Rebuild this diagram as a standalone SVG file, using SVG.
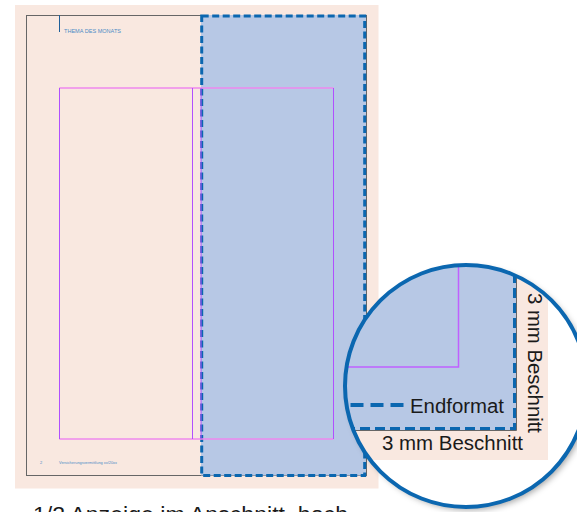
<svg xmlns="http://www.w3.org/2000/svg" width="577" height="512" viewBox="0 0 577 512">
<style>
.peach{fill:#f9e8e0}
.bluef{fill:#b7c8e5}
.dash{fill:none;stroke:#0b67b0;stroke-width:3}
.gray{fill:none;stroke:#666;stroke-width:1}
.mh{stroke:#ee88ee;stroke-width:1.5}
.mv{stroke:#b050ff;stroke-width:1}
.lbl{font-family:"Liberation Sans",Arial,sans-serif;fill:#1a1a1a}
.hdr{font-family:"Liberation Sans",Arial,sans-serif;fill:#4c8bc6}
</style>
<defs>
<clipPath id="lens"><circle cx="466" cy="386" r="121"/></clipPath>
<filter id="sh" x="-20%" y="-20%" width="140%" height="140%"><feDropShadow dx="3" dy="3" stdDeviation="3" flood-color="#000" flood-opacity="0.35"/></filter>
</defs>
<rect width="577" height="512" fill="#fff"/>
<g id="page">
<rect class="peach" x="15" y="5" width="363.5" height="483.5"/>
<rect class="gray" x="26.5" y="15.5" width="340" height="460"/>
<rect class="bluef" x="201" y="15" width="165" height="460.5"/>
<rect class="dash" x="201.7" y="16" width="163" height="459.5" stroke-dasharray="7 3.5"/>
<line class="mh" x1="59.3" y1="88" x2="333.5" y2="88"/>
<line class="mh" x1="59.3" y1="439" x2="333.5" y2="439"/>
<line class="mv" x1="59.5" y1="88" x2="59.5" y2="439"/>
<line class="mv" x1="192.5" y1="88" x2="192.5" y2="439"/>
<line class="mv" x1="201" y1="88" x2="201" y2="439"/>
<line class="mv" x1="333.5" y1="88" x2="333.5" y2="439"/>
<line x1="59.5" y1="15" x2="59.5" y2="32" stroke="#1f5f99" stroke-width="1"/>
<text class="hdr" x="64" y="33" font-size="6" textLength="57" lengthAdjust="spacingAndGlyphs">THEMA DES MONATS</text>
<text class="hdr" x="40" y="464" font-size="4">2</text>
<text class="hdr" x="59" y="464" font-size="3.6" textLength="58" lengthAdjust="spacingAndGlyphs">Versicherungsvermittlung xx/20xx</text>
</g>
<g id="caption">
<text class="lbl" x="33" y="522" font-size="22" textLength="315" lengthAdjust="spacingAndGlyphs">1/2 Anzeige im Anschnitt, hoch</text>
</g>
<g id="lens-view">
<circle cx="466" cy="386" r="121" fill="#fff" filter="url(#sh)"/>
<g clip-path="url(#lens)">
<rect class="peach" x="330" y="250" width="218" height="210"/>
<rect class="bluef" x="330" y="250" width="186.5" height="180.5"/>
<polyline points="330,367 458.5,367 458.5,250" fill="none" stroke="#c060ff" stroke-width="1.5"/>
<polyline class="gray" points="330,430.5 516.5,430.5 516.5,250"/>
<polyline class="dash" points="330,428.5 514.5,428.5 514.5,250" stroke-width="3.5" stroke-dasharray="10 5"/>
<line x1="403.5" y1="405" x2="330" y2="405" stroke="#0b67b0" stroke-width="4" stroke-dasharray="13 7"/>
<text class="lbl" x="410" y="412.5" font-size="20" textLength="94" lengthAdjust="spacingAndGlyphs">Endformat</text>
<text class="lbl" x="382" y="449.5" font-size="20" textLength="141" lengthAdjust="spacingAndGlyphs">3 mm Beschnitt</text>
<text class="lbl" transform="translate(527.5,293) rotate(90)" font-size="20" textLength="140" lengthAdjust="spacingAndGlyphs">3 mm Beschnitt</text>
</g>
<circle cx="466" cy="386" r="121" fill="none" stroke="#0b67b0" stroke-width="4"/>
</g>
</svg>
